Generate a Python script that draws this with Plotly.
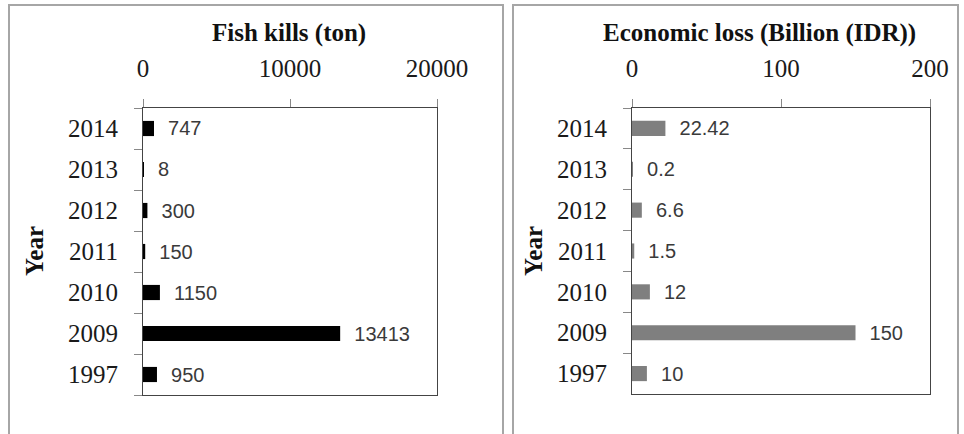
import plotly.graph_objects as go

years = ["1997", "2009", "2010", "2011", "2012", "2013", "2014"]
fish_kills_ton = [950, 13413, 1150, 150, 300, 8, 747]
fish_kills_labels = ["950", "13413", "1150", "150", "300", "8", "747"]
economic_loss_bn_idr = [10, 150, 12, 1.5, 6.6, 0.2, 22.42]
economic_loss_labels = ["10", "150", "12", "1.5", "6.6", "0.2", "22.42"]
fish_ticks = [0, 10000, 20000]
loss_ticks = [0, 100, 200]

W, H = 964, 434
SERIF = "Liberation Serif"
LABEL_FONT = "Liberation Sans"


def px(x):
    return x / W


def py(y):
    return 1 - y / H


fig = go.Figure()

fig.add_trace(go.Bar(
    x=fish_kills_ton, y=years, orientation="h",
    marker=dict(color="#000000", line=dict(width=0)),
    width=0.37,
    text=["  " + t for t in fish_kills_labels], textposition="outside",
    constraintext="none",
    textfont=dict(family=LABEL_FONT, size=20, color="#3a3a3a"),
    cliponaxis=False, xaxis="x", yaxis="y", hoverinfo="skip",
))
fig.add_trace(go.Bar(
    x=economic_loss_bn_idr, y=years, orientation="h",
    marker=dict(color="#7f7f7f", line=dict(width=0)),
    width=0.37,
    text=["  " + t for t in economic_loss_labels], textposition="outside",
    constraintext="none",
    textfont=dict(family=LABEL_FONT, size=20, color="#3a3a3a"),
    cliponaxis=False, xaxis="x2", yaxis="y2", hoverinfo="skip",
))

xcommon = dict(
    side="top", showgrid=False, zeroline=False, showline=True, mirror=True,
    linecolor="#444444", linewidth=1, ticks="outside", ticklen=8,
    tickcolor="#888888", tickfont=dict(family=SERIF, size=25, color="#1a1a1a"),
    ticklabelstandoff=12,
    fixedrange=True, automargin=False,
)
ycommon = dict(
    type="category", categoryorder="array", categoryarray=years,
    showgrid=False, zeroline=False, showline=True, mirror=True,
    linecolor="#444444", linewidth=1, ticks="outside", ticklen=8,
    tickson="boundaries", tickcolor="#888888",
    tickfont=dict(family=SERIF, size=25, color="#1a1a1a"),
    ticklabelstandoff=19,
    fixedrange=True, automargin=False,
)

fig.update_layout(
    width=W, height=H, autosize=False,
    margin=dict(l=0, r=0, t=0, b=0, pad=0, autoexpand=False),
    paper_bgcolor="white", plot_bgcolor="white",
    showlegend=False, bargap=0.6,
    xaxis=dict(domain=[px(143), px(437)], range=[0, 20000],
               tickvals=fish_ticks, ticktext=[str(v) for v in fish_ticks],
               anchor="y", **xcommon),
    yaxis=dict(domain=[py(395), py(108)], anchor="x", **ycommon),
    xaxis2=dict(domain=[px(632), px(930)], range=[0, 200],
                tickvals=loss_ticks, ticktext=[str(v) for v in loss_ticks],
                anchor="y2", **xcommon),
    yaxis2=dict(domain=[py(394), py(108)], anchor="x2", **ycommon),
)

# Panel frames
for x0, x1 in [(9, 503), (513, 958)]:
    fig.add_shape(type="rect", xref="paper", yref="paper",
                  x0=px(x0), x1=px(x1), y0=py(440), y1=py(5),
                  line=dict(color="#a6a6a6", width=2), fillcolor="rgba(0,0,0,0)",
                  layer="below")

# Panel titles
fig.add_annotation(text="<b>Fish kills (ton)</b>", xref="paper", yref="paper",
                   x=px(289), y=py(33), xanchor="center", yanchor="middle",
                   showarrow=False,
                   font=dict(family=SERIF, size=25, color="#111111"))
fig.add_annotation(text="<b>Economic loss (Billion (IDR))</b>", xref="paper", yref="paper",
                   x=px(759), y=py(33), xanchor="center", yanchor="middle",
                   showarrow=False,
                   font=dict(family=SERIF, size=25, color="#111111"))

# Y-axis titles
for xc in (34, 533):
    fig.add_annotation(text="<b>Year</b>", xref="paper", yref="paper",
                       x=px(xc), y=py(251), xanchor="center", yanchor="middle",
                       showarrow=False, textangle=-90,
                       font=dict(family=SERIF, size=25, color="#111111"))

fig.write_html("out.html")
